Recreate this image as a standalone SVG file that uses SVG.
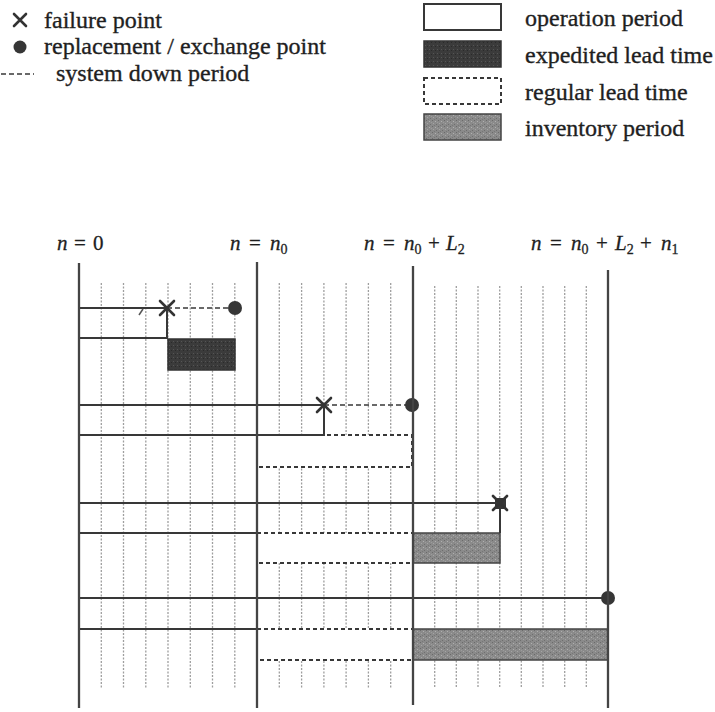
<svg xmlns="http://www.w3.org/2000/svg" width="715" height="712" viewBox="0 0 715 712">
<defs>
<pattern id="tex" width="6" height="6" patternUnits="userSpaceOnUse">
<rect width="6" height="6" fill="#8a8a8a"/>
<rect x="0" y="0" width="1" height="1" fill="#6a6a6a"/>
<rect x="3" y="1" width="1" height="1" fill="#b0b0b0"/>
<rect x="1" y="3" width="1" height="1" fill="#a5a5a5"/>
<rect x="4" y="4" width="1" height="1" fill="#6e6e6e"/>
<rect x="2" y="5" width="1" height="1" fill="#777"/>
<rect x="5" y="2" width="1" height="1" fill="#9c9c9c"/>
</pattern>
<pattern id="dark" width="4" height="4" patternUnits="userSpaceOnUse">
<rect width="4" height="4" fill="#3b3b3b"/>
<rect x="1" y="1" width="1" height="1" fill="#555"/>
<rect x="3" y="2" width="1" height="1" fill="#2a2a2a"/>
</pattern>
</defs>
<style>
text{font-family:"Liberation Serif","Times New Roman",serif;fill:#1f1f1f}
.lg{font-size:24px;stroke:#1f1f1f;stroke-width:0.35}
.lb{font-size:21px;stroke:#1f1f1f;stroke-width:0.3}
.it{font-style:italic}
.sub{font-size:14px}
.major{stroke:#444;stroke-width:2.3}
.minor{stroke:#9e9e9e;stroke-width:1.3;stroke-dasharray:2 1.5}
.op{fill:none;stroke:#383838;stroke-width:2}
.down{stroke:#383838;stroke-width:1.6;stroke-dasharray:5 3;fill:none}
.reg{fill:#fff;stroke:#383838;stroke-width:2;stroke-dasharray:4 3}
.exp{fill:url(#dark);stroke:#333;stroke-width:1.5}
.inv{fill:url(#tex);stroke:#444;stroke-width:1.5}
.fail{stroke:#333;stroke-width:2.6;stroke-linecap:round}
.rep{fill:#363636}
</style>

<g id="legend-left">
<g id="leg-failure"><path class="fail" d="M14,14 L26,26 M26,14 L14,26"/><text class="lg" x="44" y="28">failure point</text></g>
<g id="leg-replace"><circle class="rep" cx="20" cy="47" r="6.5"/><text class="lg" x="44" y="54">replacement / exchange point</text></g>
<g id="leg-down"><line class="down" x1="1" y1="74" x2="34" y2="74" stroke-dasharray="4 2"/><text class="lg" x="56" y="81">system down period</text></g>
</g>

<g id="legend-right">
<g id="leg-op"><rect x="424" y="4" width="77" height="26" fill="#fff" stroke="#383838" stroke-width="2"/><text class="lg" x="525" y="26">operation period</text></g>
<g id="leg-exp"><rect class="exp" x="424" y="41" width="77" height="26"/><text class="lg" x="525" y="63">expedited lead time</text></g>
<g id="leg-reg"><rect class="reg" x="424" y="78" width="77" height="26"/><text class="lg" x="525" y="100">regular lead time</text></g>
<g id="leg-inv"><rect class="inv" x="424" y="114" width="77" height="26"/><text class="lg" x="525" y="136">inventory period</text></g>
</g>

<g id="labels">
<text class="lb" y="250"><tspan class="it" x="57">n</tspan><tspan x="74">=</tspan><tspan x="93">0</tspan></text>
<text class="lb" y="250"><tspan class="it" x="230">n</tspan><tspan x="249">=</tspan><tspan class="it" x="270">n</tspan><tspan class="sub" dy="4">0</tspan></text>
<text class="lb" y="250"><tspan class="it" x="364">n</tspan><tspan x="383">=</tspan><tspan class="it" x="404">n</tspan><tspan class="sub" dy="4">0</tspan><tspan dy="-4" x="428">+</tspan><tspan class="it" x="446">L</tspan><tspan class="sub" dy="4">2</tspan></text>
<text class="lb" y="250"><tspan class="it" x="531">n</tspan><tspan x="550">=</tspan><tspan class="it" x="571">n</tspan><tspan class="sub" dy="4">0</tspan><tspan dy="-4" x="596">+</tspan><tspan class="it" x="615">L</tspan><tspan class="sub" dy="4">2</tspan><tspan dy="-4" x="640">+</tspan><tspan class="it" x="661">n</tspan><tspan class="sub" dy="4">1</tspan></text>
</g>

<g id="grid">
<g id="minor-lines">
<line class="minor" x1="101.3" y1="283" x2="101.3" y2="688"/>
<line class="minor" x1="123.5" y1="283" x2="123.5" y2="688"/>
<line class="minor" x1="145.8" y1="283" x2="145.8" y2="688"/>
<line class="minor" x1="168" y1="283" x2="168" y2="688"/>
<line class="minor" x1="190.3" y1="283" x2="190.3" y2="688"/>
<line class="minor" x1="212.5" y1="283" x2="212.5" y2="688"/>
<line class="minor" x1="234.8" y1="283" x2="234.8" y2="688"/>
<line class="minor" x1="279.3" y1="283" x2="279.3" y2="688"/>
<line class="minor" x1="301.6" y1="283" x2="301.6" y2="688"/>
<line class="minor" x1="323.9" y1="283" x2="323.9" y2="688"/>
<line class="minor" x1="346.1" y1="283" x2="346.1" y2="688"/>
<line class="minor" x1="368.4" y1="283" x2="368.4" y2="688"/>
<line class="minor" x1="390.7" y1="283" x2="390.7" y2="688"/>
<line class="minor" x1="434.7" y1="286" x2="434.7" y2="688"/>
<line class="minor" x1="456.3" y1="286" x2="456.3" y2="688"/>
<line class="minor" x1="478" y1="286" x2="478" y2="688"/>
<line class="minor" x1="499.7" y1="286" x2="499.7" y2="688"/>
<line class="minor" x1="521.3" y1="286" x2="521.3" y2="688"/>
<line class="minor" x1="543" y1="286" x2="543" y2="688"/>
<line class="minor" x1="564.7" y1="286" x2="564.7" y2="688"/>
<line class="minor" x1="586.3" y1="286" x2="586.3" y2="688"/>
</g>
</g>

<g id="row1">
<rect class="exp" x="168" y="339" width="67" height="31"/>
<path class="op" d="M79,308 H167 V338 H79"/>
<line class="down" x1="167" y1="308" x2="235" y2="308"/>
<path d="M139,315 L143,309" stroke="#555" stroke-width="1.5"/>
<path class="fail" d="M160,301 L174,315 M174,301 L160,315"/>
<circle class="rep" cx="235" cy="308" r="7"/>
</g>

<g id="row2">
<rect class="reg" x="257" y="435" width="155" height="32"/>
<path class="op" d="M79,405 H324 V435 H79"/>
<line class="down" x1="324" y1="405" x2="412" y2="405"/>
<path class="fail" d="M317,398 L331,412 M331,398 L317,412"/>
<circle class="rep" cx="412" cy="405" r="7"/>
</g>

<g id="row3">
<rect class="reg" x="257" y="533" width="156" height="30"/>
<rect class="inv" x="413" y="533" width="87" height="30"/>
<path class="op" d="M79,503 H500 V533 M257,533 H79"/>
<rect x="495" y="498" width="11" height="11" fill="#363636"/>
<path class="fail" d="M493,496 L507,510 M507,496 L493,510" stroke-width="3"/>
</g>

<g id="row4">
<rect class="reg" x="257" y="629" width="156" height="31"/>
<rect class="inv" x="413" y="629" width="195" height="31"/>
<path class="op" d="M79,598 H608 M257,629 H79"/>
<circle class="rep" cx="608" cy="598" r="7"/>
</g>

<g id="connectors">
<line class="major" x1="79" y1="263" x2="79" y2="708"/>
<line class="major" x1="257" y1="262" x2="257" y2="708"/>
<line class="major" x1="413" y1="266" x2="413" y2="705"/>
<line class="major" x1="608" y1="270" x2="608" y2="708"/>
</g>
</svg>
